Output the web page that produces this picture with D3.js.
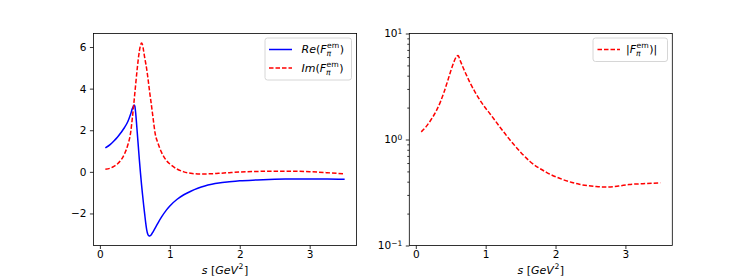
<html>
<script src='https://d3js.org/d3.v7.min.js'></script>
<style>
body { margin: 0; background: white; }
svg text { font-family: 'DejaVu Sans', sans-serif; fill: black; white-space: pre; }
</style>
<body>
<svg width=747 height=280></svg>
<script>
// s grid (GeV^2) for left panel
const s = [0.078, 0.15, 0.2, 0.25, 0.3, 0.35, 0.4, 0.44, 0.465, 0.49, 0.50, 0.51, 0.535, 0.55, 0.565, 0.58,
  0.595, 0.61, 0.625, 0.64, 0.655, 0.67, 0.685, 0.70, 0.715, 0.733, 0.76, 0.79, 0.83, 0.88, 0.95,
  1.0, 1.1, 1.2, 1.3, 1.4, 1.5, 1.6, 1.7, 1.85, 2.0, 2.25, 2.5, 2.75, 3.0, 3.25, 3.5];
const reF = [1.15, 1.32, 1.48, 1.66, 1.88, 2.12, 2.42, 2.78, 3.05, 3.21, 3.15, 2.88, 1.85, 1.20, 0.55, -0.05,
  -0.60, -1.10, -1.58, -2.02, -2.45, -2.80, -3.00, -3.07, -3.08, -3.03, -2.88, -2.70, -2.46, -2.18, -1.84,
  -1.64, -1.33, -1.10, -0.93, -0.79, -0.68, -0.60, -0.54, -0.48, -0.43, -0.39, -0.36, -0.345, -0.34, -0.345, -0.36];
const imF = [0.12, 0.18, 0.26, 0.38, 0.56, 0.85, 1.30, 1.90, 2.62, 3.45, 3.80, 4.15, 5.0, 5.45, 5.82, 6.08,
  6.19, 6.10, 5.82, 5.50, 5.22, 4.92, 4.55, 4.15, 3.75, 3.30, 2.60, 1.85, 1.38, 0.95, 0.55,
  0.38, 0.14, 0.00, -0.07, -0.10, -0.10, -0.09, -0.07, -0.04, -0.01, 0.02, 0.03, 0.03, 0.01, -0.04, -0.10];

// right panel |F|
const sAbs = [0.078, 0.15, 0.213, 0.3, 0.355, 0.4, 0.45, 0.5, 0.543, 0.575, 0.605, 0.635, 0.686, 0.73, 0.78,
  0.85, 0.92, 1.0, 1.064, 1.2, 1.3, 1.4, 1.5, 1.63, 1.87, 2.1, 2.34, 2.58, 2.72, 2.9, 3.05, 3.25, 3.5];
const absF = [1.18, 1.33, 1.52, 1.90, 2.29, 2.75, 3.47, 4.42, 5.35, 5.95, 6.2, 5.56, 4.62, 3.98, 3.39,
  2.79, 2.34, 1.97, 1.74, 1.32, 1.084, 0.902, 0.759, 0.624, 0.49, 0.42, 0.378, 0.36, 0.356, 0.364, 0.376, 0.383, 0.39];

const xTicks = [0, 1, 2, 3];
const yTicksLeft = [-2, 0, 2, 4, 6];
const yTicksRight = [0.1, 1, 10];

const svg = d3.select("svg");
const yTop = 33.5, yBottom = 245.5;
const fs = 10.5, fsm = 11;

// math-ish label made of pieces
function mathText(parent, x, y, parts, size, anchor) {
  const g = parent.append("g");
  let cx = 0;
  parts.forEach(p => {
    if (p.t !== undefined) {
      const t = g.append("text").attr("x", cx).attr("y", 0)
        .style("font-size", size + "px")
        .style("font-style", p.it ? "italic" : "normal")
        .text(p.t);
      cx += t.node().getComputedTextLength();
    } else {
      let w = 0;
      if (p.sup) {
        const t = g.append("text").attr("x", cx + 0.5).attr("y", -size * 0.42)
          .style("font-size", (size * 0.7) + "px").text(p.sup);
        w = Math.max(w, t.node().getComputedTextLength() + 0.5);
      }
      if (p.sub) {
        const t = g.append("text").attr("x", cx).attr("y", size * 0.28)
          .style("font-size", (size * 0.7) + "px").style("font-style", "italic").text(p.sub);
        w = Math.max(w, t.node().getComputedTextLength());
      }
      cx += w + 0.5;
    }
  });
  let dx = 0;
  if (anchor === "middle") dx = -cx / 2;
  if (anchor === "end") dx = -cx;
  g.attr("transform", `translate(${x + dx},${y})`);
  return g;
}

function frame(x0, x1) {
  svg.append("rect")
    .attr("x", x0).attr("y", yTop)
    .attr("width", x1 - x0).attr("height", yBottom - yTop)
    .attr("fill", "none").attr("stroke", "#000").attr("stroke-width", 0.8);
}

function styleAxis(g) {
  g.select(".domain").remove();
  g.selectAll("line").attr("stroke", "#000").attr("stroke-width", 0.8);
  g.selectAll("text").attr("font-family", "'DejaVu Sans', sans-serif").attr("font-size", fs);
}

const xlabel = [{t: "s", it: true}, {t: " ["}, {t: "GeV", it: true}, {sup: "2"}, {t: "]"}];

// ---------- left panel ----------
const x = d3.scaleLinear().domain([-0.093, 3.671]).range([93.4, 356.6]);
const y = d3.scaleLinear().domain([-3.54, 6.65]).range([yBottom, yTop]);

const line = d3.line().curve(d3.curveMonotoneX);

svg.append("path")
  .attr("d", line(s.map((v, i) => [x(v), y(reF[i])])))
  .attr("fill", "none").attr("stroke", "#0000ff").attr("stroke-width", 1.5);

svg.append("path")
  .attr("d", line(s.map((v, i) => [x(v), y(imF[i])])))
  .attr("fill", "none").attr("stroke", "#ff0000").attr("stroke-width", 1.5)
  .attr("stroke-dasharray", "4.5,2");

frame(93.4, 356.6);

svg.append("g").attr("transform", `translate(0,${yBottom})`)
  .call(d3.axisBottom(x).tickValues(xTicks).tickSize(3.5).tickPadding(2).tickFormat(d3.format("d")))
  .call(styleAxis);

svg.append("g").attr("transform", "translate(93.4,0)")
  .call(d3.axisLeft(y).tickValues(yTicksLeft).tickSize(3.5).tickPadding(3.5).tickFormat(d3.format("d")))
  .call(styleAxis);

mathText(svg, 225, 273.5, xlabel, fsm, "middle");

// legend left
svg.append("rect").attr("x", 265).attr("y", 38).attr("width", 86.5).attr("height", 42)
  .attr("rx", 2.5).attr("fill", "white").attr("fill-opacity", 0.8)
  .attr("stroke", "#cccccc").attr("stroke-width", 0.8);
svg.append("line").attr("x1", 269).attr("x2", 292).attr("y1", 49.5).attr("y2", 49.5)
  .attr("stroke", "#0000ff").attr("stroke-width", 1.5);
svg.append("line").attr("x1", 269).attr("x2", 292).attr("y1", 68).attr("y2", 68)
  .attr("stroke", "#ff0000").attr("stroke-width", 1.5).attr("stroke-dasharray", "4.5,2");
mathText(svg, 301.5, 53, [{t: "Re", it: true}, {t: "("}, {t: "F", it: true}, {sup: "em", sub: "π"}, {t: ")"}], fsm, "start");
mathText(svg, 301.5, 71.5, [{t: "Im", it: true}, {t: "("}, {t: "F", it: true}, {sup: "em", sub: "π"}, {t: ")"}], fsm, "start");

// ---------- right panel ----------
const x2 = d3.scaleLinear().domain([-0.093, 3.671]).range([409.3, 672.3]);
const y2 = d3.scaleLog().domain([0.1, 10]).range([yBottom, yTop]);

svg.append("path")
  .attr("d", line(sAbs.map((v, i) => [x2(v), y2(absF[i])])))
  .attr("fill", "none").attr("stroke", "#ff0000").attr("stroke-width", 1.5)
  .attr("stroke-dasharray", "4.5,2");

frame(409.3, 672.3);

svg.append("g").attr("transform", `translate(0,${yBottom})`)
  .call(d3.axisBottom(x2).tickValues(xTicks).tickSize(3.5).tickPadding(2).tickFormat(d3.format("d")))
  .call(styleAxis);

const minor = [];
[0.1, 1].forEach(d => { for (let k = 2; k <= 9; k++) minor.push(d * k); });
svg.append("g").attr("transform", "translate(409.3,0)")
  .call(d3.axisLeft(y2).tickValues(minor).tickSize(2).tickFormat(""))
  .call(styleAxis);

const yAx = svg.append("g").attr("transform", "translate(409.3,0)")
  .call(d3.axisLeft(y2).tickValues(yTicksRight).tickSize(3.5).tickPadding(3.5).tickFormat(""))
  .call(styleAxis);
yAx.selectAll(".tick").each(function(d) {
  const e = Math.round(Math.log10(d));
  const t = d3.select(this).select("text").attr("dy", "0.32em");
  t.text("10");
  t.append("tspan").attr("dy", "-0.45em").style("font-size", "7.5px")
    .text(e < 0 ? "−" + (-e) : String(e));
});

mathText(svg, 540.8, 273.5, xlabel, fsm, "middle");

// legend right
svg.append("rect").attr("x", 593).attr("y", 38).attr("width", 74.5).attr("height", 23.5)
  .attr("rx", 2.5).attr("fill", "white").attr("fill-opacity", 0.8)
  .attr("stroke", "#cccccc").attr("stroke-width", 0.8);
svg.append("line").attr("x1", 597.5).attr("x2", 620).attr("y1", 49.5).attr("y2", 49.5)
  .attr("stroke", "#ff0000").attr("stroke-width", 1.5).attr("stroke-dasharray", "4.5,2");
mathText(svg, 626, 53, [{t: "|"}, {t: "F", it: true}, {sup: "em", sub: "π"}, {t: ")|"}], fsm, "start");
</script>
</body>
</html>
